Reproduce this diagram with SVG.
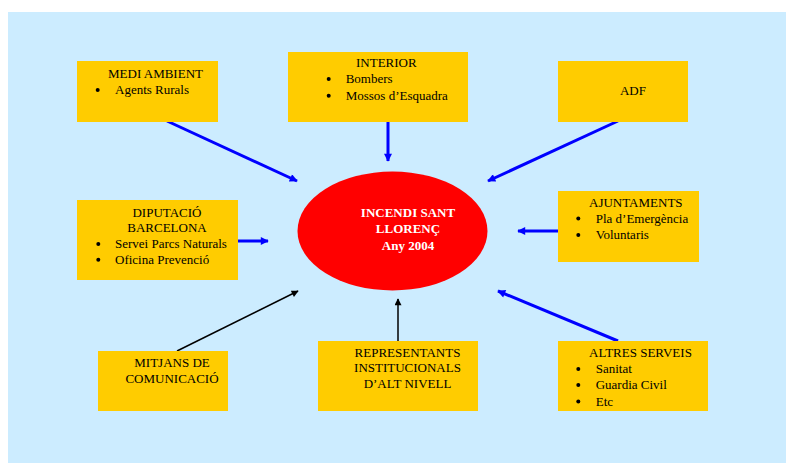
<svg xmlns="http://www.w3.org/2000/svg" width="786" height="463" viewBox="0 0 786 463">
<defs>
<style>
.box{fill:#FFCC00}
.t{font-family:"Liberation Serif","Times New Roman",serif;font-size:13px;fill:#000}
.m{text-anchor:middle}
.w{fill:#fff;font-weight:bold}
.b{stroke:#0000FF;stroke-width:3;fill:none}
.k{stroke:#000;stroke-width:1.5;fill:none}
</style>
<marker id="ab" viewBox="0 0 10 10" refX="9" refY="5" markerUnits="userSpaceOnUse" markerWidth="10" markerHeight="8" orient="auto">
<path d="M0,0 L10,5 L0,10 Z" fill="#0000FF"/>
</marker>
<marker id="ak" viewBox="0 0 10 10" refX="9" refY="5" markerUnits="userSpaceOnUse" markerWidth="9" markerHeight="7" orient="auto">
<path d="M0,0 L10,5 L0,10 Z" fill="#000"/>
</marker>
</defs>
<rect x="8" y="12" width="778" height="451" fill="#CCECFF"/>

<g id="connectors">
<line class="b" x1="167" y1="121" x2="297" y2="181" marker-end="url(#ab)"/>
<line class="b" x1="388" y1="122" x2="388" y2="161" marker-end="url(#ab)"/>
<line class="b" x1="618" y1="121" x2="488" y2="181" marker-end="url(#ab)"/>
<line class="b" x1="238" y1="241" x2="268" y2="241" marker-end="url(#ab)"/>
<line class="b" x1="558" y1="231" x2="518" y2="231" marker-end="url(#ab)"/>
<line class="k" x1="177" y1="351" x2="298" y2="291" marker-end="url(#ak)"/>
<line class="k" x1="398" y1="341" x2="398" y2="299" marker-end="url(#ak)"/>
<line class="b" x1="618" y1="341" x2="498" y2="291" marker-end="url(#ab)"/>
</g>

<g id="center">
<ellipse cx="392.5" cy="231" rx="95" ry="59.5" fill="#FF0000"/>
<text class="t m w" x="408" y="216.5">INCENDI SANT</text>
<text class="t m w" x="408" y="233">LLORENÇ</text>
<text class="t m w" x="408" y="249.5">Any 2004</text>
</g>

<g id="medi-ambient">
<rect class="box" x="77" y="61" width="141" height="61"/>
<text class="t" x="108" y="78.3">MEDI AMBIENT</text>
<circle cx="97.7" cy="90" r="2"/>
<text class="t" x="115" y="94.3">Agents Rurals</text>
</g>

<g id="interior">
<rect class="box" x="288" y="52" width="180" height="70"/>
<text class="t" x="356" y="67.3">INTERIOR</text>
<circle cx="328.7" cy="79" r="2"/>
<text class="t" x="345.7" y="83.3">Bombers</text>
<circle cx="328.7" cy="95.7" r="2"/>
<text class="t" x="345.7" y="100">Mossos d’Esquadra</text>
</g>

<g id="adf">
<rect class="box" x="558" y="61" width="130" height="61"/>
<text class="t m" x="633" y="95">ADF</text>
</g>

<g id="diputacio">
<rect class="box" x="77" y="200" width="161" height="80"/>
<text class="t m" x="167" y="216.7">DIPUTACIÓ</text>
<text class="t m" x="167" y="232.3">BARCELONA</text>
<circle cx="98.3" cy="244" r="2"/>
<text class="t" x="115" y="248.3">Servei Parcs Naturals</text>
<circle cx="98.3" cy="259.7" r="2"/>
<text class="t" x="115" y="264">Oficina Prevenció</text>
</g>

<g id="ajuntaments">
<rect class="box" x="558" y="191" width="141" height="71"/>
<text class="t" x="589" y="206.7">AJUNTAMENTS</text>
<circle cx="578.3" cy="218.5" r="2"/>
<text class="t" x="595.7" y="222.8">Pla d’Emergència</text>
<circle cx="578.3" cy="235" r="2"/>
<text class="t" x="595.7" y="239.3">Voluntaris</text>
</g>

<g id="mitjans">
<rect class="box" x="98" y="351" width="130" height="60"/>
<text class="t m" x="172" y="366.7">MITJANS DE</text>
<text class="t m" x="172" y="383.3">COMUNICACIÓ</text>
</g>

<g id="representants">
<rect class="box" x="318" y="341" width="160" height="70"/>
<text class="t m" x="407.5" y="356.7">REPRESENTANTS</text>
<text class="t m" x="407.5" y="372.3">INSTITUCIONALS</text>
<text class="t m" x="407.5" y="388.3">D’ALT NIVELL</text>
</g>

<g id="altres-serveis">
<rect class="box" x="558" y="341" width="150" height="70"/>
<text class="t" x="589" y="356.7">ALTRES SERVEIS</text>
<circle cx="578.3" cy="369" r="2"/>
<text class="t" x="595.7" y="373.3">Sanitat</text>
<circle cx="578.3" cy="385" r="2"/>
<text class="t" x="595.7" y="389.3">Guardia Civil</text>
<circle cx="578.3" cy="401.4" r="2"/>
<text class="t" x="595.7" y="405.7">Etc</text>
</g>
</svg>
